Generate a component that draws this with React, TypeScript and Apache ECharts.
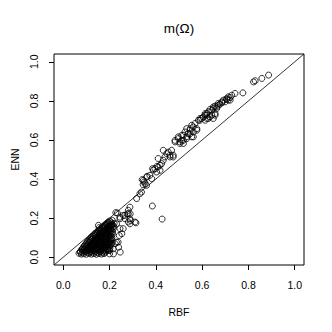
import React, { useEffect, useRef } from "react";
import * as echarts from "echarts";

const xTicks = [0, 0.2, 0.4, 0.6, 0.8, 1.0];
const yTicks = [0, 0.2, 0.4, 0.6, 0.8, 1.0];
const axisRange = [-0.04, 1.04];
const titleText = "m(Ω)";
const xName = "RBF";
const yName = "ENN";

// dense cluster of small values
const lowCluster: number[][] = [
  [0.068, 0.02], [0.078, 0.016], [0.088, 0.018], [0.099, 0.015], [0.11, 0.019], [0.121, 0.016], [0.132, 0.018], [0.143, 0.015], [0.154, 0.019], [0.165, 0.016], [0.176, 0.018],
  [0.074, 0.03], [0.085, 0.033], [0.096, 0.031], [0.107, 0.034], [0.118, 0.03], [0.129, 0.033], [0.14, 0.031], [0.151, 0.034], [0.162, 0.03], [0.173, 0.033], [0.184, 0.031], [0.192, 0.034],
  [0.083, 0.045], [0.094, 0.048], [0.105, 0.044], [0.116, 0.047], [0.127, 0.045], [0.138, 0.048], [0.149, 0.044], [0.16, 0.047], [0.171, 0.045], [0.182, 0.048], [0.193, 0.044], [0.202, 0.047],
  [0.092, 0.059], [0.103, 0.062], [0.114, 0.058], [0.125, 0.061], [0.136, 0.059], [0.147, 0.062], [0.158, 0.058], [0.169, 0.061], [0.18, 0.059], [0.191, 0.062], [0.203, 0.06],
  [0.101, 0.073], [0.112, 0.076], [0.123, 0.072], [0.134, 0.075], [0.145, 0.073], [0.156, 0.076], [0.167, 0.072], [0.178, 0.075], [0.189, 0.073], [0.2, 0.076], [0.209, 0.072],
  [0.111, 0.087], [0.122, 0.09], [0.133, 0.086], [0.144, 0.089], [0.155, 0.087], [0.166, 0.09], [0.177, 0.086], [0.188, 0.089], [0.199, 0.087], [0.21, 0.09],
  [0.121, 0.101], [0.132, 0.104], [0.143, 0.1], [0.154, 0.103], [0.165, 0.101], [0.176, 0.104], [0.187, 0.1], [0.198, 0.103], [0.21, 0.101],
  [0.133, 0.115], [0.144, 0.118], [0.155, 0.114], [0.166, 0.117], [0.177, 0.115], [0.188, 0.118], [0.199, 0.114], [0.212, 0.117],
  [0.146, 0.129], [0.157, 0.132], [0.168, 0.128], [0.179, 0.131], [0.19, 0.129], [0.201, 0.132], [0.213, 0.128],
  [0.16, 0.143], [0.171, 0.146], [0.182, 0.142], [0.193, 0.145], [0.204, 0.143], [0.216, 0.146],
  [0.172, 0.157], [0.183, 0.16], [0.194, 0.156], [0.205, 0.159], [0.218, 0.157],
  [0.186, 0.171], [0.197, 0.174], [0.208, 0.17], [0.22, 0.173],
  [0.2, 0.185], [0.212, 0.188],
];

// more points inside the same cluster
const lowClusterFill: number[][] = [
  [0.073, 0.025], [0.083, 0.024], [0.094, 0.026], [0.104, 0.025], [0.115, 0.024], [0.126, 0.026], [0.137, 0.025], [0.148, 0.024], [0.159, 0.026], [0.17, 0.025], [0.181, 0.024],
  [0.08, 0.039], [0.09, 0.04], [0.101, 0.038], [0.112, 0.04], [0.123, 0.039], [0.134, 0.038], [0.145, 0.04], [0.156, 0.039], [0.167, 0.038], [0.178, 0.04], [0.189, 0.039], [0.198, 0.038],
  [0.088, 0.053], [0.099, 0.054], [0.11, 0.052], [0.121, 0.054], [0.132, 0.053], [0.143, 0.052], [0.154, 0.054], [0.165, 0.053], [0.176, 0.052], [0.187, 0.054], [0.198, 0.053],
  [0.097, 0.067], [0.108, 0.068], [0.119, 0.066], [0.13, 0.068], [0.141, 0.067], [0.152, 0.066], [0.163, 0.068], [0.174, 0.067], [0.185, 0.066], [0.196, 0.068], [0.206, 0.067],
  [0.106, 0.081], [0.117, 0.082], [0.128, 0.08], [0.139, 0.082], [0.15, 0.081], [0.161, 0.08], [0.172, 0.082], [0.183, 0.081], [0.194, 0.08], [0.205, 0.082],
  [0.116, 0.095], [0.127, 0.096], [0.138, 0.094], [0.149, 0.096], [0.16, 0.095], [0.171, 0.094], [0.182, 0.096], [0.193, 0.095], [0.204, 0.094],
  [0.127, 0.109], [0.138, 0.11], [0.149, 0.108], [0.16, 0.11], [0.171, 0.109], [0.182, 0.108], [0.193, 0.11], [0.205, 0.109],
  [0.139, 0.123], [0.15, 0.124], [0.161, 0.122], [0.172, 0.124], [0.183, 0.123], [0.194, 0.122], [0.206, 0.124],
  [0.152, 0.137], [0.163, 0.138], [0.174, 0.136], [0.185, 0.138], [0.196, 0.137], [0.208, 0.136],
  [0.166, 0.151], [0.177, 0.152], [0.188, 0.15], [0.199, 0.152], [0.211, 0.151],
  [0.179, 0.165], [0.19, 0.166], [0.201, 0.164], [0.213, 0.166],
  [0.193, 0.179], [0.205, 0.18],
];

// scattered points between 0.15 and 0.47
const midScatter: number[][] = [
  [0.155, 0.151], [0.152, 0.163], [0.227, 0.228], [0.234, 0.226], [0.288, 0.256], [0.281, 0.24], [0.281, 0.222],
  [0.266, 0.214], [0.276, 0.222], [0.289, 0.222], [0.259, 0.214], [0.288, 0.197], [0.245, 0.197], [0.31, 0.18],
  [0.314, 0.176], [0.23, 0.171], [0.259, 0.146], [0.245, 0.146], [0.253, 0.12], [0.242, 0.111], [0.237, 0.077],
  [0.224, 0.069], [0.239, 0.051], [0.246, 0.026], [0.217, 0.017], [0.216, 0.043], [0.2, 0.017], [0.29, 0.188],
  [0.266, 0.197], [0.245, 0.205], [0.281, 0.18], [0.288, 0.171], [0.23, 0.077], [0.2, 0.034], [0.209, 0.163],
  [0.317, 0.3], [0.331, 0.325], [0.338, 0.333], [0.346, 0.393], [0.36, 0.41], [0.353, 0.376], [0.36, 0.368],
  [0.345, 0.371], [0.35, 0.385], [0.341, 0.397], [0.363, 0.414],
];

// isolated points below the diagonal
const outliers: number[][] = [
  [0.385, 0.262], [0.427, 0.195],
];

// upper band
const upperBand: number[][] = [
  [0.374, 0.419], [0.382, 0.402], [0.386, 0.453], [0.389, 0.446], [0.396, 0.453], [0.403, 0.436], [0.405, 0.465],
  [0.41, 0.462], [0.418, 0.47], [0.418, 0.445], [0.41, 0.505], [0.425, 0.479], [0.432, 0.496], [0.432, 0.547],
  [0.439, 0.513], [0.447, 0.53], [0.454, 0.538], [0.461, 0.513], [0.461, 0.522], [0.468, 0.547], [0.475, 0.513],
  [0.475, 0.522],
  [0.483, 0.59], [0.483, 0.598], [0.497, 0.607], [0.497, 0.616], [0.504, 0.582], [0.504, 0.59], [0.512, 0.624],
  [0.512, 0.598], [0.519, 0.598], [0.519, 0.582], [0.519, 0.624], [0.526, 0.641], [0.533, 0.616], [0.533, 0.607],
  [0.533, 0.658], [0.54, 0.633], [0.548, 0.658], [0.548, 0.632], [0.548, 0.65], [0.555, 0.675], [0.555, 0.616],
  [0.562, 0.641], [0.562, 0.616], [0.562, 0.667], [0.569, 0.684], [0.577, 0.658], [0.577, 0.65],
  [0.584, 0.701], [0.591, 0.71], [0.591, 0.701], [0.598, 0.71], [0.605, 0.718], [0.613, 0.735], [0.613, 0.727],
  [0.613, 0.701], [0.62, 0.727], [0.62, 0.735], [0.62, 0.71], [0.627, 0.744], [0.627, 0.71], [0.634, 0.756],
  [0.634, 0.718], [0.642, 0.752], [0.642, 0.727], [0.648, 0.761], [0.648, 0.769], [0.648, 0.71], [0.656, 0.773],
  [0.656, 0.727], [0.656, 0.735], [0.663, 0.761], [0.663, 0.769], [0.67, 0.778], [0.67, 0.787], [0.677, 0.783],
  [0.685, 0.79], [0.685, 0.795], [0.692, 0.804], [0.699, 0.795], [0.706, 0.807], [0.706, 0.812], [0.713, 0.804],
  [0.713, 0.821], [0.721, 0.817], [0.721, 0.804], [0.728, 0.829], [0.742, 0.838], [0.776, 0.841], [0.822, 0.897],
  [0.829, 0.903], [0.858, 0.915], [0.887, 0.932],
];

const FONT = "'Liberation Sans', Arial, Helvetica, sans-serif";

export default function App() {
  const ref = useRef<HTMLDivElement>(null);
  useEffect(() => {
    const chart = echarts.init(ref.current!, null, { renderer: "svg" });
    const allPoints = [...lowCluster, ...lowClusterFill, ...midScatter, ...outliers, ...upperBand];
    chart.setOption({
      animation: false,
      backgroundColor: "#fff",
      title: {
        text: titleText,
        left: 179,
        top: 21,
        padding: 0,
        textAlign: "center",
        textStyle: { fontSize: 13.5, fontWeight: "normal", color: "#000", fontFamily: FONT },
      },
      grid: {
        left: 54,
        top: 54,
        width: 250,
        height: 211,
        show: true,
        borderColor: "#000",
        borderWidth: 1,
        backgroundColor: "transparent",
      },
      xAxis: {
        type: "value",
        min: axisRange[0],
        max: axisRange[1],
        axisLine: { show: false, onZero: false },
        splitLine: { show: false },
        axisTick: { show: true, inside: false, customValues: xTicks, length: 5, lineStyle: { color: "#000", width: 1 } },
        axisLabel: {
          customValues: xTicks,
          formatter: (v: number) => v.toFixed(1),
          margin: 14,
          fontSize: 10.5,
          color: "#000",
          fontFamily: FONT,
        },
        name: xName,
        nameLocation: "middle",
        nameGap: 41,
        nameTextStyle: { fontSize: 10.5, color: "#000", fontFamily: FONT },
      },
      yAxis: {
        type: "value",
        min: axisRange[0],
        max: axisRange[1],
        axisLine: { show: false, onZero: false },
        splitLine: { show: false },
        axisTick: { show: true, inside: false, customValues: yTicks, length: 5, lineStyle: { color: "#000", width: 1 } },
        axisLabel: {
          customValues: yTicks,
          formatter: (v: number) => v.toFixed(1),
          rotate: 90,
          margin: 14.5,
          fontSize: 10.5,
          color: "#000",
          fontFamily: FONT,
        },
        name: yName,
        nameLocation: "middle",
        nameGap: 26.5,
        nameTextStyle: { fontSize: 10.5, color: "#000", fontFamily: FONT },
      },
      series: [
        {
          type: "line",
          data: [[axisRange[0], axisRange[0]], [axisRange[1], axisRange[1]]],
          symbol: "none",
          lineStyle: { color: "#000", width: 0.8 },
          silent: true,
          z: 1,
        },
        {
          type: "scatter",
          data: allPoints,
          symbol: "circle",
          symbolSize: 6,
          itemStyle: { color: "rgba(0,0,0,0)", borderColor: "#000", borderWidth: 1 },
          emphasis: { disabled: true },
          silent: true,
          z: 2,
        },
      ],
    });
    return () => chart.dispose();
  }, []);
  return (
    <div
      ref={ref}
      style={{ position: "absolute", left: 0, top: 0, width: 332, height: 332, background: "#fff" }}
    />
  );
}
